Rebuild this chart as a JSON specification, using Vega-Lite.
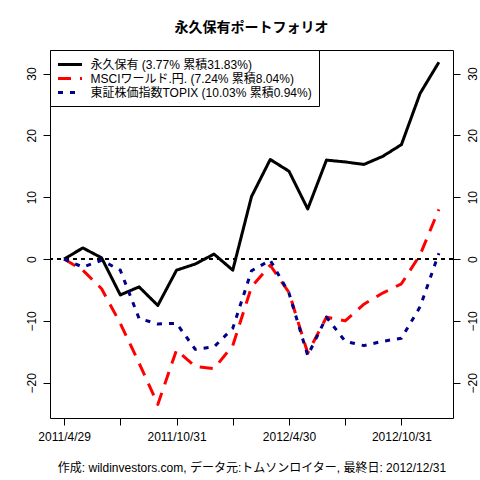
{
  "$schema": "https://vega.github.io/schema/vega-lite/v6.json",
  "width": 403,
  "height": 368,
  "autosize": "none",
  "padding": {"left": 50, "top": 50, "right": 27, "bottom": 62},
  "background": "white",
  "title": {
    "text": "永久保有ポートフォリオ",
    "font": "Noto Sans CJK JP",
    "fontSize": 14,
    "fontWeight": "bold",
    "color": "black",
    "anchor": "middle",
    "offset": 15
  },
  "config": {
    "view": {"stroke": "black", "strokeWidth": 1},
    "font": "Liberation Sans",
    "legend": {
      "title": null,
      "orient": "top-left",
      "offset": 0,
      "padding": 7,
      "strokeColor": "black",
      "fillColor": "white",
      "symbolType": "M-2,0H2",
      "symbolSize": 144,
      "symbolStrokeWidth": 3,
      "symbolOffset": 5.5,
      "labelOffset": 13,
      "labelFont": "Liberation Sans, Noto Sans CJK JP",
      "labelFontSize": 12,
      "labelColor": "black",
      "labelLimit": 300,
      "rowPadding": 0
    }
  },
  "data": {
    "values": [
      {"series": "永久保有 (3.77% 累積31.83%)", "date": "2011/4/29", "value": 0},
      {"series": "永久保有 (3.77% 累積31.83%)", "date": "2011/5/31", "value": 1.8},
      {"series": "永久保有 (3.77% 累積31.83%)", "date": "2011/6/30", "value": 0.2},
      {"series": "永久保有 (3.77% 累積31.83%)", "date": "2011/7/29", "value": -5.8},
      {"series": "永久保有 (3.77% 累積31.83%)", "date": "2011/8/31", "value": -4.5},
      {"series": "永久保有 (3.77% 累積31.83%)", "date": "2011/9/30", "value": -7.5},
      {"series": "永久保有 (3.77% 累積31.83%)", "date": "2011/10/31", "value": -1.8},
      {"series": "永久保有 (3.77% 累積31.83%)", "date": "2011/11/30", "value": -0.8},
      {"series": "永久保有 (3.77% 累積31.83%)", "date": "2011/12/30", "value": 0.8},
      {"series": "永久保有 (3.77% 累積31.83%)", "date": "2012/1/31", "value": -1.8},
      {"series": "永久保有 (3.77% 累積31.83%)", "date": "2012/2/29", "value": 10.1},
      {"series": "永久保有 (3.77% 累積31.83%)", "date": "2012/3/30", "value": 16.1},
      {"series": "永久保有 (3.77% 累積31.83%)", "date": "2012/4/30", "value": 14.2},
      {"series": "永久保有 (3.77% 累積31.83%)", "date": "2012/5/31", "value": 8.1},
      {"series": "永久保有 (3.77% 累積31.83%)", "date": "2012/6/29", "value": 16.0},
      {"series": "永久保有 (3.77% 累積31.83%)", "date": "2012/7/31", "value": 15.7},
      {"series": "永久保有 (3.77% 累積31.83%)", "date": "2012/8/31", "value": 15.3},
      {"series": "永久保有 (3.77% 累積31.83%)", "date": "2012/9/28", "value": 16.6},
      {"series": "永久保有 (3.77% 累積31.83%)", "date": "2012/10/31", "value": 18.5},
      {"series": "永久保有 (3.77% 累積31.83%)", "date": "2012/11/30", "value": 26.8},
      {"series": "永久保有 (3.77% 累積31.83%)", "date": "2012/12/31", "value": 31.83},
      {"series": "MSCIワールド.円. (7.24% 累積8.04%)", "date": "2011/4/29", "value": 0},
      {"series": "MSCIワールド.円. (7.24% 累積8.04%)", "date": "2011/5/31", "value": -1.8},
      {"series": "MSCIワールド.円. (7.24% 累積8.04%)", "date": "2011/6/30", "value": -4.8},
      {"series": "MSCIワールド.円. (7.24% 累積8.04%)", "date": "2011/7/29", "value": -10.4},
      {"series": "MSCIワールド.円. (7.24% 累積8.04%)", "date": "2011/8/31", "value": -16.8},
      {"series": "MSCIワールド.円. (7.24% 累積8.04%)", "date": "2011/9/30", "value": -23.5},
      {"series": "MSCIワールド.円. (7.24% 累積8.04%)", "date": "2011/10/31", "value": -14.7},
      {"series": "MSCIワールド.円. (7.24% 累積8.04%)", "date": "2011/11/30", "value": -17.4},
      {"series": "MSCIワールド.円. (7.24% 累積8.04%)", "date": "2011/12/30", "value": -17.7},
      {"series": "MSCIワールド.円. (7.24% 累積8.04%)", "date": "2012/1/31", "value": -14.0},
      {"series": "MSCIワールド.円. (7.24% 累積8.04%)", "date": "2012/2/29", "value": -4.5},
      {"series": "MSCIワールド.円. (7.24% 累積8.04%)", "date": "2012/3/30", "value": -1.0},
      {"series": "MSCIワールド.円. (7.24% 累積8.04%)", "date": "2012/4/30", "value": -5.4},
      {"series": "MSCIワールド.円. (7.24% 累積8.04%)", "date": "2012/5/31", "value": -15.2},
      {"series": "MSCIワールド.円. (7.24% 累積8.04%)", "date": "2012/6/29", "value": -9.4},
      {"series": "MSCIワールド.円. (7.24% 累積8.04%)", "date": "2012/7/31", "value": -10.0},
      {"series": "MSCIワールド.円. (7.24% 累積8.04%)", "date": "2012/8/31", "value": -7.3},
      {"series": "MSCIワールド.円. (7.24% 累積8.04%)", "date": "2012/9/28", "value": -5.5},
      {"series": "MSCIワールド.円. (7.24% 累積8.04%)", "date": "2012/10/31", "value": -4.0},
      {"series": "MSCIワールド.円. (7.24% 累積8.04%)", "date": "2012/11/30", "value": 0.7},
      {"series": "MSCIワールド.円. (7.24% 累積8.04%)", "date": "2012/12/31", "value": 8.04},
      {"series": "東証株価指数TOPIX (10.03% 累積0.94%)", "date": "2011/4/29", "value": 0},
      {"series": "東証株価指数TOPIX (10.03% 累積0.94%)", "date": "2011/5/31", "value": -1.3},
      {"series": "東証株価指数TOPIX (10.03% 累積0.94%)", "date": "2011/6/30", "value": -0.2},
      {"series": "東証株価指数TOPIX (10.03% 累積0.94%)", "date": "2011/7/29", "value": -1.8},
      {"series": "東証株価指数TOPIX (10.03% 累積0.94%)", "date": "2011/8/31", "value": -9.6},
      {"series": "東証株価指数TOPIX (10.03% 累積0.94%)", "date": "2011/9/30", "value": -10.5},
      {"series": "東証株価指数TOPIX (10.03% 累積0.94%)", "date": "2011/10/31", "value": -10.4},
      {"series": "東証株価指数TOPIX (10.03% 累積0.94%)", "date": "2011/11/30", "value": -14.6},
      {"series": "東証株価指数TOPIX (10.03% 累積0.94%)", "date": "2011/12/30", "value": -14.2},
      {"series": "東証株価指数TOPIX (10.03% 累積0.94%)", "date": "2012/1/31", "value": -11.2},
      {"series": "東証株価指数TOPIX (10.03% 累積0.94%)", "date": "2012/2/29", "value": -1.9},
      {"series": "東証株価指数TOPIX (10.03% 累積0.94%)", "date": "2012/3/30", "value": -0.2},
      {"series": "東証株価指数TOPIX (10.03% 累積0.94%)", "date": "2012/4/30", "value": -5.5},
      {"series": "東証株価指数TOPIX (10.03% 累積0.94%)", "date": "2012/5/31", "value": -15.6},
      {"series": "東証株価指数TOPIX (10.03% 累積0.94%)", "date": "2012/6/29", "value": -9.4},
      {"series": "東証株価指数TOPIX (10.03% 累積0.94%)", "date": "2012/7/31", "value": -13.3},
      {"series": "東証株価指数TOPIX (10.03% 累積0.94%)", "date": "2012/8/31", "value": -14.0},
      {"series": "東証株価指数TOPIX (10.03% 累積0.94%)", "date": "2012/9/28", "value": -13.3},
      {"series": "東証株価指数TOPIX (10.03% 累積0.94%)", "date": "2012/10/31", "value": -12.8},
      {"series": "東証株価指数TOPIX (10.03% 累積0.94%)", "date": "2012/11/30", "value": -7.7},
      {"series": "東証株価指数TOPIX (10.03% 累積0.94%)", "date": "2012/12/31", "value": 0.94}
    ]
  },
  "resolve": {"axis": {"y": "independent"}},
  "layer": [
    {
      "mark": {"type": "rule", "color": "black", "strokeWidth": 1, "strokeDash": [4, 4]},
      "encoding": {
        "y": {
          "datum": 0,
          "type": "quantitative",
          "scale": {"domain": [-25.7, 33.8], "nice": false, "zero": false},
          "axis": {
            "orient": "right",
            "values": [-20, -10, 0, 10, 20, 30],
            "title": null,
            "grid": false,
            "domain": false,
            "tickSize": 7,
            "tickColor": "black",
            "labelAngle": -90,
            "labelAlign": "center",
            "labelBaseline": "top",
            "labelPadding": 7,
            "labelFont": "Liberation Sans",
            "labelFontSize": 12,
            "labelColor": "black"
          }
        }
      }
    },
    {
      "mark": {"type": "line", "strokeWidth": 3, "strokeJoin": "round", "strokeCap": "butt"},
      "encoding": {
        "x": {
          "field": "date",
          "type": "ordinal",
          "sort": null,
          "scale": {"type": "point", "padding": 0.7525},
          "axis": {
            "values": ["2011/4/29", "2011/7/29", "2011/10/31", "2012/1/31", "2012/4/30", "2012/7/31", "2012/10/31"],
            "labelExpr": "indexof(['2011/4/29', '2011/10/31', '2012/4/30', '2012/10/31'], datum.value) >= 0 ? datum.value : ''",
            "labelAngle": 0,
            "labelBaseline": "top",
            "labelPadding": 6,
            "labelFont": "Liberation Sans",
            "labelFontSize": 12,
            "labelColor": "black",
            "domain": false,
            "grid": false,
            "tickSize": 7,
            "tickColor": "black",
            "title": "作成: wildinvestors.com, データ元:トムソンロイター, 最終日: 2012/12/31",
            "titleFont": "Liberation Sans, Noto Sans CJK JP",
            "titleFontSize": 12,
            "titleFontWeight": "normal",
            "titleColor": "black",
            "titlePadding": 20
          }
        },
        "y": {
          "field": "value",
          "type": "quantitative",
          "scale": {"domain": [-25.7, 33.8], "nice": false, "zero": false},
          "axis": {
            "orient": "left",
            "values": [-20, -10, 0, 10, 20, 30],
            "title": null,
            "grid": false,
            "domain": false,
            "tickSize": 7,
            "tickColor": "black",
            "labelAngle": -90,
            "labelAlign": "center",
            "labelBaseline": "alphabetic",
            "labelPadding": 8,
            "labelFont": "Liberation Sans",
            "labelFontSize": 12,
            "labelColor": "black"
          }
        },
        "color": {
          "field": "series",
          "type": "nominal",
          "scale": {
            "domain": ["永久保有 (3.77% 累積31.83%)", "MSCIワールド.円. (7.24% 累積8.04%)", "東証株価指数TOPIX (10.03% 累積0.94%)"],
            "range": ["black", "#ff0000", "#00008b"]
          },
          "legend": {"title": null}
        },
        "strokeDash": {
          "field": "series",
          "type": "nominal",
          "scale": {
            "domain": ["永久保有 (3.77% 累積31.83%)", "MSCIワールド.円. (7.24% 累積8.04%)", "東証株価指数TOPIX (10.03% 累積0.94%)"],
            "range": [[1, 0], [13, 9], [5, 7]]
          },
          "legend": {"title": null}
        }
      }
    }
  ]
}
